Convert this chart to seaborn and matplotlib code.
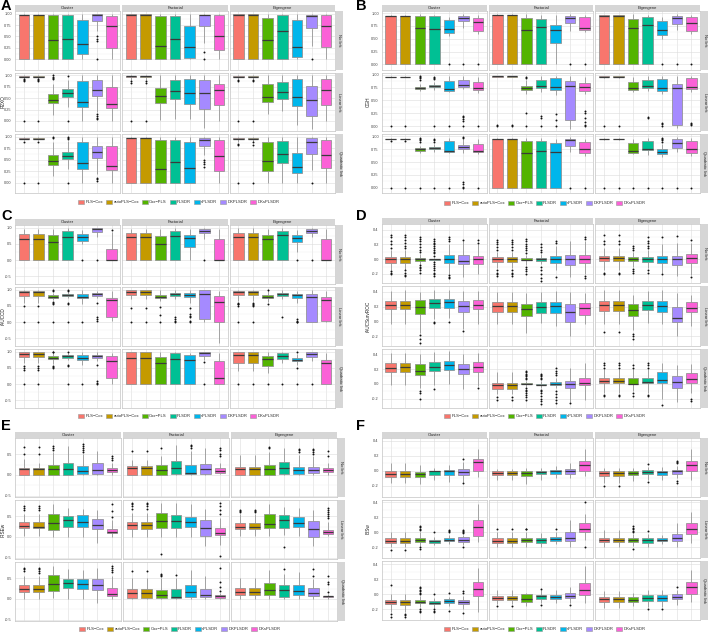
import numpy as np
import pandas as pd
import matplotlib
matplotlib.use("Agg")
import matplotlib.pyplot as plt
from matplotlib.patches import Patch
import seaborn as sns

methods = ["PLS\u2212Cox", "autoPLS\u2212Cox", "Cox\u2212PLS", "PLSDR", "sPLSDR", "DKPLSDR", "DKsPLSDR"]
colors = ["#F8766D", "#C49A00", "#53B400", "#00C094", "#00B6EB", "#A58AFF", "#FB61D7"]
designs = ["Cluster", "Factorial", "Eigengene"]
links = ["No link", "Linear link", "Quadratic link"]

# box stats per facet (row-major: No/Linear/Quadratic x Cluster/Factorial/Eigengene)
# each box: (whisker low, q1, median, q3, whisker high)
A_box = [
    [(0,0,.97,.98,1),(0,0,.97,.98,1),(0,0,.42,.96,1),(0,0,.44,.96,1),(0,.12,.34,.87,1),(.62,.84,.96,.99,1),(0,.24,.74,.95,1)],
    [(0,0,.98,.99,1),(0,0,.98,.99,1),(0,0,.29,.94,1),(0,0,.44,.94,1),(0,.02,.27,.72,1),(.35,.72,.96,.98,1),(0,.2,.5,.96,1)],
    [(0,0,.98,.99,1),(0,0,.98,.99,1),(0,0,.43,.91,1),(0,0,.63,.96,1),(0,.05,.26,.86,1),(.28,.68,.95,.98,1),(0,.27,.74,.96,1)],
    [(.93,.96,.97,.98,1),(.93,.96,.97,.98,1),(.13,.39,.46,.59,.82),(.3,.53,.61,.7,.9),(0,.31,.42,.87,1),(.2,.54,.67,.89,1),(0,.29,.38,.75,1)],
    [(.9,.97,.98,.99,1),(.9,.97,.98,.99,1),(.02,.4,.55,.72,1),(.05,.48,.65,.9,1),(.05,.38,.61,.93,1),(-.16,.26,.61,.89,1),(0,.35,.67,.8,1)],
    [(.93,.96,.97,.98,1),(.93,.96,.97,.98,1),(.15,.41,.52,.8,1),(.22,.48,.63,.85,1),(-.09,.33,.52,.93,1),(-.17,.11,.45,.76,1),(0,.36,.67,.93,1)],
    [(.93,.95,.96,.98,1),(.93,.95,.96,.98,1),(.15,.38,.48,.61,.9),(.3,.51,.59,.68,.92),(0,.3,.43,.88,1),(.18,.55,.67,.81,1),(0,.28,.37,.8,1)],
    [(0,0,.97,.98,1),(0,0,.97,.98,1),(0,0,.29,.94,1),(0,0,.46,.94,1),(0,0,.33,.88,1),(.6,.81,.94,.98,1),(0,.26,.58,.94,1)],
    [(.9,.95,.96,.98,1),(.9,.95,.96,.98,1),(0,.25,.48,.9,1),(0,.42,.63,.91,1),(0,.21,.35,.65,1),(.28,.63,.9,.98,1),(0,.31,.61,.94,1)],
]
A_out = {
    (0,5):[.5,.45,.4,0], (1,5):[.15,0], (2,5):[0],
    (3,0):[.91,.89,.87,0], (3,1):[.91,.89,.87,0], (3,2):[.92,.95,.97,1], (3,3):[.98,0], (3,5):[.15,.1,.07,.05],
    (4,0):[.88,.84,0], (4,1):[.88,.84,0],
    (5,0):[.9,.88,0], (5,1):[.9,.88,0],
    (6,0):[.9,0], (6,1):[.9,0], (6,2):[.97,1], (6,3):[.97,1,.95,0], (6,5):[.1,.07,.03],
    (7,5):[.5,.45,.4,.35],
    (8,0):[.85,.82,0], (8,1):[.88,.82,0], (8,5):[0],
}

B_box = [
    [(0,0,.94,.95,.97),(0,0,.94,.95,.97),(0,0,.71,.94,.98),(0,0,.7,.94,.97),(.55,.61,.69,.86,.92),(.72,.84,.91,.95,.98),(.6,.66,.82,.9,.96)],
    [(0,0,.96,.97,.98),(0,0,.96,.97,.98),(0,0,.67,.91,.98),(0,0,.73,.89,.97),(0,.41,.67,.77,.96),(.65,.8,.91,.95,.98),(.63,.67,.72,.92,.97)],
    [(0,0,.95,.96,.97),(0,0,.95,.96,.97),(0,0,.71,.88,.98),(0,0,.77,.93,.97),(.5,.58,.67,.84,.93),(.68,.79,.9,.94,.98),(.6,.66,.8,.93,.97)],
    [(.95,.95,.96,.96,.97),(.95,.95,.96,.96,.97),(.68,.72,.75,.77,.83),(.7,.77,.79,.8,.86),(.66,.69,.72,.88,.97),(.72,.77,.8,.9,.98),(.65,.7,.75,.86,.96)],
    [(.96,.96,.97,.97,.98),(.96,.96,.97,.97,.98),(.63,.71,.75,.79,.9),(.67,.75,.79,.9,.97),(.61,.7,.77,.93,.98),(-.05,.12,.78,.87,.97),(.62,.69,.77,.85,.96)],
    [(.94,.95,.96,.97,.97),(.94,.95,.96,.97,.97),(.66,.7,.74,.86,.96),(.68,.75,.78,.89,.98),(.62,.69,.75,.92,.98),(-.03,.02,.74,.82,.97),(.66,.72,.77,.93,.98)],
    [(.93,.95,.96,.96,.97),(.93,.95,.96,.96,.97),(.68,.72,.75,.78,.82),(.7,.76,.78,.8,.86),(.68,.7,.72,.91,.97),(.68,.76,.8,.84,.96),(.66,.69,.72,.85,.95)],
    [(0,0,.96,.96,.97),(0,0,.96,.96,.97),(0,0,.67,.92,.98),(0,0,.72,.92,.97),(0,0,.69,.87,.96),(.7,.81,.93,.96,.99),(.62,.68,.75,.89,.96)],
    [(.94,.95,.96,.96,.97),(.94,.95,.96,.96,.97),(.66,.68,.72,.87,.96),(.64,.73,.76,.92,.98),(.6,.65,.69,.76,.86),(.7,.78,.87,.96,.99),(.62,.68,.75,.92,.98)],
]
B_out = {
    (0,4):[0], (0,5):[0], (0,6):[0],
    (1,5):[0], (1,6):[0],
    (2,4):[0], (2,5):[0], (2,6):[0],
    (3,0):[0], (3,1):[0], (3,2):[.9,.93,.96,.98], (3,3):[.91,.94,.96,0], (3,4):[0], (3,5):[.2,.17,.14,.1,0], (3,6):[0],
    (4,0):[.02,0], (4,1):[.02,0], (4,2):[.93,.96,.25,0], (4,3):[.2,.16,0], (4,4):[.23,.12,0], (4,6):[.3,.25,.15,.08,.03,0],
    (5,0):[0], (5,1):[0], (5,3):[.17,.15], (5,4):[.07,.04,0], (5,6):[.06,.04,.02],
    (6,0):[.91,0], (6,1):[.91,0], (6,2):[.9,.93,.95,.97,0], (6,3):[.9,.94,.96,0], (6,4):[0], (6,5):[.97,.99,.12,.07,.02,0], (6,6):[0],
    (7,5):[0], (7,6):[0],
    (8,0):[0], (8,1):[0], (8,2):[0], (8,3):[0], (8,4):[.9,.93,.96,.98,0], (8,5):[0], (8,6):[0],
}

C_box = [
    [(0,0,.65,.82,.97),(0,0,.65,.82,.97),(0,0,.56,.78,.97),(0,0,.72,.89,.98),(.5,.59,.7,.81,.93),(.7,.86,.95,.98,1),(0,0,0,.35,.88)],
    [(0,0,.72,.85,.97),(0,0,.71,.85,.97),(0,0,.51,.75,.97),(0,0,.75,.89,.98),(0,.4,.69,.78,.95),(.65,.83,.9,.97,1),(0,0,0,.66,.95)],
    [(0,0,.71,.85,.98),(0,0,.71,.85,.98),(0,0,.66,.78,.97),(0,0,.78,.91,.98),(.25,.55,.68,.78,.93),(.72,.83,.9,.96,1),(0,0,.02,.66,.95)],
    [(.6,.8,.93,.97,1),(.6,.8,.93,.97,1),(.68,.74,.79,.83,.9),(.75,.81,.84,.87,.93),(.55,.73,.79,.88,.98),(.75,.81,.86,.89,.97),(.05,.16,.69,.75,.95)],
    [(.7,.85,.94,.98,1),(.7,.85,.94,.98,1),(.65,.74,.79,.83,.98),(.7,.81,.86,.9,.98),(.6,.77,.84,.89,.98),(0,.09,.86,.98,1),(-.65,0,.63,.8,.97)],
    [(.65,.85,.92,.97,1),(.65,.85,.92,.97,1),(.62,.74,.79,.84,.98),(.7,.81,.86,.9,.98),(.6,.75,.83,.88,.97),(0,.02,.78,.88,.98),(0,.04,.69,.79,.95)],
    [(.65,.84,.93,.98,1),(.65,.84,.93,.98,1),(.62,.76,.8,.87,.95),(.75,.82,.86,.89,.95),(.6,.73,.82,.91,.98),(.7,.82,.86,.91,.98),(.02,.18,.7,.86,.97)],
    [(0,0,.8,.98,1),(0,0,.8,.98,1),(0,0,.65,.84,.98),(0,0,.78,.95,.99),(0,0,.73,.89,.97),(.75,.88,.95,1,1),(0,0,.2,.72,.95)],
    [(.4,.66,.9,.99,1),(.4,.66,.9,.99,1),(.35,.55,.77,.86,.98),(.65,.77,.86,.95,.99),(.6,.7,.74,.8,.93),(.7,.85,.92,.99,1),(0,0,.66,.73,.95)],
]
C_out = {
    (0,4):[0], (0,5):[0], (0,6):[.94],
    (1,5):[0],
    (2,4):[0], (2,5):[0],
    (3,0):[.5,0], (3,1):[.5,0], (3,2):[.55,.6,.62,.95,1,0], (3,3):[.6,.57,.97,1,0], (3,4):[0], (3,5):[.6,.15,.1,.05],
    (4,0):[.45,0], (4,1):[.45,0], (4,2):[.48,.22,0], (4,3):[.15,.1,.05,0], (4,4):[.45,.25,.2,.15,.05,0],
    (5,0):[.6,.57,.55,.5,0], (5,1):[.6,.55,.52,.5,0], (5,2):[.55,1], (5,3):[.15], (5,4):[.1,.05,.02,0],
    (6,0):[.55,.5,.44,0], (6,1):[.55,.5,.44,0], (6,2):[.55,.52,.5,.98,1], (6,3):[.6,.57,1,0], (6,4):[0], (6,5):[.6,.1,.05,0],
    (7,5):[.68,0],
    (8,0):[0], (8,1):[0], (8,2):[0], (8,3):[0], (8,4):[.5,.98,0], (8,5):[0],
}

D_box = [
    [(-.14,-.045,0,.03,.12),(-.14,-.045,0,.03,.12),(-.07,-.018,.005,.018,.07),(-.02,-.005,0,.005,.02),(-.2,-.05,0,.055,.2),(-.24,-.065,-.018,.055,.24),(-.2,-.06,0,.04,.2)],
    [(-.12,-.035,0,.03,.1),(-.12,-.035,0,.03,.1),(-.08,-.015,-.005,.01,.06),(-.06,-.02,0,.02,.07),(-.15,-.045,0,.05,.18),(-.24,-.085,0,.06,.24),(-.2,-.05,0,.06,.24)],
    [(-.15,-.03,.01,.045,.15),(-.15,-.03,.01,.045,.15),(-.1,-.025,0,.03,.1),(-.12,-.035,0,.035,.12),(-.18,-.045,0,.05,.2),(-.23,-.075,0,.045,.22),(-.22,-.05,.01,.07,.22)],
    [(-.03,.165,.23,.28,.42),(-.03,.165,.23,.28,.43),(-.16,.107,.195,.285,.4),(.03,.18,.245,.3,.43),(.05,.19,.26,.31,.43),(-.1,.13,.215,.28,.42),(-.03,.17,.23,.29,.42)],
    [(-.03,.125,.21,.27,.4),(-.03,.125,.21,.27,.4),(-.15,.07,.17,.24,.38),(-.02,.12,.2,.27,.4),(-.06,.12,.205,.27,.42),(-.2,0,.135,.24,.4),(-.04,.09,.185,.25,.38)],
    [(-.03,.14,.22,.28,.43),(-.03,.14,.22,.28,.43),(-.12,.08,.16,.24,.36),(-.02,.15,.22,.28,.42),(-.03,.13,.21,.28,.43),(-.2,-.01,.05,.2,.38),(-.06,.13,.19,.26,.36)],
    [(-.01,.155,.22,.285,.42),(-.01,.16,.235,.285,.42),(-.05,.115,.18,.27,.4),(-.02,.18,.23,.3,.43),(0,.19,.25,.31,.44),(-.07,.14,.2,.27,.4),(-.03,.16,.23,.29,.42)],
    [(-.14,-.07,-.02,.01,.16),(-.14,-.07,-.02,.01,.16),(-.04,-.005,0,.01,.04),(-.05,-.02,-.01,0,.04),(-.06,-.01,0,.03,.08),(-.25,-.06,0,.04,.22),(-.22,-.02,.01,.08,.28)],
    [(-.12,.01,.04,.08,.2),(-.12,.01,.04,.08,.2),(-.1,0,0,.08,.2),(-.12,.01,.025,.08,.2),(-.2,.01,.05,.16,.28),(-.24,-.06,.02,.1,.26),(-.13,.01,.07,.15,.27)],
]
D_out = {
    (0,0):[.15,.2,.25,.3,.33,-.16,-.18,-.2], (0,1):[.15,.18,.22,.26,.3,.33,-.15,-.18,-.21,-.23],
    (0,2):[.1,.13,.16,.2,.24,.28,.3,-.08,-.1,-.12,-.15,-.18],
    (0,3):[.05,.08,.1,.12,.15,.18,.2,.22,.25,.27,-.04,-.06,-.09,-.12,-.15,-.18,-.2,-.23],
    (0,4):[.25,.27,.3,-.22,-.24,-.25], (0,5):[.26], (0,6):[.26,.22],
    (1,0):[.13,.16,.2,.23,.26,-.15,-.18,-.2,-.23], (1,1):[.13,.16,.2,.23,.26,-.15,-.18,-.2,-.23],
    (1,2):[.09,.12,.15,.18,.21,.24,.27,-.1,-.13,-.16,-.2], (1,3):[.1,.13,.17,.21,-.1,-.15,-.2,-.25,-.29],
    (1,4):[.22,.24,-.24], (1,6):[.27,.3,-.23,-.26],
    (2,0):[.2,.25,.33,-.18,-.2], (2,1):[.2,.25,.33,-.18,-.2], (2,2):[.12,.15,.18,-.13,-.16,-.19],
    (2,3):[.15,.18,.22,.25,.3,-.15,-.18], (2,4):[.3,-.2], (2,5):[.31], (2,6):[.26,-.24],
    (3,2):[-.18,-.23,-.29], (3,3):[-.01,-.02], (3,4):[0], (3,5):[-.13],
    (5,0):[-.14], (5,1):[-.14], (5,2):[-.17,-.2,-.23],
    (6,2):[-.1,-.13,-.2], (6,3):[-.07], (6,6):[-.06],
    (7,0):[-.18,-.22], (7,1):[-.18,-.22], (7,2):[.06,.08,.1,.12,.14,.16,.18,-.06,-.08,-.1,-.12,-.15,-.18,-.22],
    (7,3):[.06,.08,.1,.12,.14,-.08,-.1,-.13,-.16,-.2,-.23,-.27], (7,4):[.12,.15,.18,.22,-.1,-.14,-.18,-.22,-.26], (7,5):[-.26],
    (8,0):[.22,.25,.28,-.15,-.17], (8,1):[.22,.25,.28,-.15,-.17], (8,2):[.22,.25,-.13,-.17], (8,3):[.22,.25,.28,-.15,-.17], (8,4):[-.28], (8,6):[-.21,-.23],
}

E_box = [
    [(0,0,.14,.18,.38),(0,0,.14,.16,.3),(0,0,.14,.24,.55),(0,0,.14,.29,.7),(0,.02,.1,.22,.5),(0,.02,.12,.3,.58),(0,.06,.12,.17,.28)],
    [(0,0,.17,.21,.37),(0,0,.16,.21,.37),(0,0,.12,.24,.45),(0,.02,.17,.34,.72),(0,.02,.05,.24,.58),(0,.03,.14,.27,.65),(.02,.05,.1,.16,.3)],
    [(0,0,.15,.2,.48),(0,0,.15,.2,.48),(0,0,.15,.24,.55),(0,.02,.18,.31,.65),(0,.02,.11,.2,.48),(0,.04,.12,.2,.45),(0,.06,.12,.17,.3)],
    [(.02,.22,.26,.35,.55),(.02,.22,.25,.35,.55),(0,.18,.34,.55,.8),(0,.25,.4,.5,.7),(0,.23,.36,.53,.68),(-.15,.19,.29,.43,.65),(0,.09,.11,.2,.4)],
    [(0,.19,.28,.36,.58),(0,.19,.28,.36,.58),(0,.22,.38,.57,.82),(0,.22,.38,.53,.82),(0,.24,.35,.48,.8),(-.22,.03,.22,.4,.68),(-.2,.04,.09,.21,.45)],
    [(.02,.2,.25,.33,.55),(.02,.2,.25,.33,.55),(.02,.21,.32,.56,.8),(.05,.22,.4,.53,.72),(.02,.24,.34,.48,.7),(-.22,0,.19,.38,.65),(.02,.06,.11,.17,.35)],
    [(0,.17,.25,.33,.55),(0,.17,.24,.33,.55),(.02,.2,.36,.57,.8),(0,.26,.38,.48,.72),(0,.23,.37,.49,.7),(-.1,.22,.34,.48,.75),(0,.06,.11,.27,.55)],
    [(0,.02,.14,.25,.5),(0,.02,.14,.25,.5),(0,.02,.1,.22,.5),(0,.02,.05,.24,.5),(0,.04,.16,.33,.7),(0,.04,.1,.25,.55),(0,.03,.06,.09,.15)],
    [(0,.1,.18,.27,.5),(0,.1,.18,.27,.5),(0,.1,.22,.38,.7),(0,.05,.22,.33,.6),(0,.1,.2,.34,.65),(0,.06,.14,.26,.48),(0,.04,.06,.08,.12)],
]
E_out = {
    (0,0):[.5,.68], (0,1):[.5,.68], (0,2):[.6,.65,.7], (0,4):[.55,.6,.65,.7,.75], (0,6):[.35,.4,.45],
    (1,0):[.57], (1,1):[.57], (1,2):[.65], (1,4):[.65,.7,.72], (1,6):[.45,.5,.6,.65],
    (2,2):[.65,.68], (2,4):[.55,.6,.63], (2,5):[.5,.55,.6,.62], (2,6):[.45,.58],
    (3,0):[.65,.7,.75], (3,1):[.65,.7,.75], (3,6):[.48,.63,.8],
    (4,0):[.68,.75,.8,.83], (4,1):[.68,.75,.8,.83], (4,2):[-.42], (4,6):[.55,.65,.75,.82,-.47],
    (5,0):[.6,.63,.66], (5,1):[.6,.63,.66], (5,3):[-.25], (5,6):[.45,.5,.55,.6,.65,.7],
    (6,0):[.68,.72,.75], (6,1):[.63,.68,.72,.75], (6,6):[.65,.7,.75,.8],
    (7,0):[.68], (7,1):[.68], (7,2):[.55,.58,.6], (7,3):[.58], (7,6):[.2,.3,.4,.75],
    (8,3):[.72], (8,5):[.55,.73], (8,6):[.18,.35,.42,.55],
}

F_box = [
    [(-.17,-.08,-.04,-.01,.1),(-.17,-.08,-.04,-.01,.1),(-.18,-.08,-.05,-.013,.08),(-.12,-.06,-.01,-.005,.04),(-.15,-.06,-.004,.004,.07),(-.15,-.06,-.013,.017,.12),(-.08,0,.11,.15,.29)],
    [(-.13,-.06,-.03,-.01,.02),(-.13,-.06,-.03,-.01,.02),(-.18,-.07,-.03,-.01,.03),(-.12,-.05,-.02,0,.04),(-.1,-.05,-.01,.01,.06),(-.1,-.04,-.01,.02,.1),(-.07,0,.07,.13,.29)],
    [(-.16,-.07,-.03,-.01,.03),(-.16,-.07,-.03,-.01,.03),(-.14,-.06,-.03,-.01,.03),(-.12,-.05,-.02,.01,.05),(-.13,-.06,-.02,0,.05),(-.1,-.04,-.01,.01,.06),(-.13,0,.08,.13,.29)],
    [(-.2,-.14,-.11,-.08,0),(-.2,-.145,-.115,-.08,0),(-.18,-.13,-.1,-.075,0),(-.17,-.14,-.115,-.095,-.06),(-.16,-.12,-.095,-.07,-.04),(-.17,-.125,-.1,-.065,-.03),(-.13,-.045,.07,.16,.38)],
    [(-.19,-.14,-.11,-.075,0),(-.19,-.14,-.11,-.075,0),(-.19,-.13,-.1,-.075,0),(-.2,-.135,-.1,-.075,-.01),(-.16,-.12,-.09,-.065,0),(-.2,-.12,-.08,0,.17),(-.1,0,.05,.12,.25)],
    [(-.19,-.13,-.1,-.07,.03),(-.19,-.13,-.1,-.07,.03),(-.18,-.125,-.1,-.075,-.02),(-.19,-.135,-.105,-.075,-.02),(-.16,-.12,-.095,-.07,-.03),(-.2,-.12,-.075,-.02,.13),(-.14,-.02,.05,.13,.27)],
    [(-.24,-.133,-.1,-.075,0),(-.24,-.146,-.11,-.08,0),(-.17,-.124,-.1,-.075,-.03),(-.18,-.137,-.115,-.09,-.05),(-.16,-.12,-.093,-.07,-.04),(-.2,-.133,-.11,-.08,-.03),(-.24,-.03,.07,.16,.35)],
    [(-.13,-.08,-.05,-.02,.06),(-.13,-.08,-.05,-.02,.06),(-.16,-.1,-.06,0,.02),(-.12,-.06,-.03,-.01,.05),(-.12,-.06,-.04,-.015,.05),(-.12,-.05,-.02,.01,.1),(-.12,-.01,.05,.15,.37)],
    [(-.18,-.1,-.07,-.04,.04),(-.18,-.1,-.07,-.04,.04),(-.16,-.1,-.075,-.04,.02),(-.17,-.09,-.05,-.01,.06),(-.17,-.09,-.05,-.01,.06),(-.14,-.07,-.04,0,.06),(-.1,0,.1,.16,.32)],
]
F_out = {
    (0,5):[.15,-.16],
    (2,0):[-.2], (2,1):[-.2], (2,3):[.09,-.15], (2,5):[.1,.12,.13,-.14,-.17],
    (3,0):[-.23], (3,1):[-.23], (3,2):[.03,.05,.07,.09,-.2,-.22], (3,3):[0], (3,4):[0,.02,.03], (3,5):[-.01,.01,.02,.03,-.2],
    (4,0):[.05], (4,1):[.05], (4,2):[.04,.05], (4,4):[.04], (4,6):[.4,-.2],
    (5,2):[0,.02,.04,.06,.08,-.22], (5,3):[.02],
    (6,0):[.12,-.27,-.3], (6,1):[-.26,-.28,-.31], (6,2):[0,.02,.04,.06,.08,.1,-.2,-.22,-.24], (6,3):[0,-.2,-.22,-.24], (6,4):[.01,-.23], (6,5):[.02,.04,-.25],
    (7,0):[-.16], (7,1):[-.16], (7,3):[.07,-.15], (7,5):[-.15],
    (8,3):[-.2], (8,4):[-.2], (8,5):[.1],
}

ylabels = ["R2XO", "CGH", "iAUCCD", "iAUCSurvROC", "iRSEw", "iBSw"]
yticks = [[0, .25, .5, .75, 1], [0, .25, .5, .75, 1], [-.5, 0, .5, 1], [-.2, 0, .2, .4], [-.5, 0, .5], [-.2, 0, .2, .4]]
ytick_fmt = ["{:.2f}", "{:.2f}", "{:.1f}", "{:.1f}", "{:.1f}", "{:.1f}"]

sns.set_style("white")
plt.rcParams["font.family"] = ["Liberation Sans", "DejaVu Sans"]

W, H = 708, 634
fig = plt.figure(figsize=(W / 100, H / 100), dpi=100)
pal = dict(zip(methods, colors))


def px_ax(x, y, w, h):
    return fig.add_axes([x / W, 1 - (y + h) / H, w / W, h / H])


def draw_panel(letter, box, outs, ylab, ticks, fmt, x0, x1, y0, y1, ly, lpos):
    allv = [v for f in box for b in f for v in b] + [v for o in outs.values() for v in o]
    lo, hi = min(allv), max(allv)
    pad = 0.05 * (hi - lo)
    ylim = (lo - pad, hi + pad)
    sh, sw, cg, rg = 6, 7, 2, 3
    fw = (x1 - x0 - sw - 1 - 2 * cg) / 3
    fh = (y1 - y0 - sh - 2 * rg) / 3
    minor = [(a + b) / 2 for a, b in zip(ticks[:-1], ticks[1:])]
    for r in range(3):
        for c in range(3):
            fx = x0 + c * (fw + cg)
            fy = y0 + sh + r * (fh + rg)
            ax = px_ax(fx, fy, fw, fh)
            k = r * 3 + c
            cats, vals = [], []
            for m, s in zip(methods, box[k]):
                cats += [m] * 5
                vals += list(s)
            df = pd.DataFrame({"method": cats, "value": vals})
            sns.boxplot(data=df, x="method", y="value", hue="method", order=methods,
                        hue_order=methods, palette=pal, whis=np.inf, width=0.72,
                        saturation=1, linecolor="#8f8f8f", linewidth=0.55,
                        showcaps=False, legend=False,
                        medianprops=dict(color="#3a3a3a", linewidth=0.9), ax=ax)
            ox, oy = [], []
            for (kk, mi), pts in outs.items():
                if kk == k:
                    ox += [methods[mi]] * len(pts)
                    oy += pts
            if ox:
                sns.stripplot(x=ox, y=oy, order=methods, jitter=False, color="#111111",
                              size=1.4, linewidth=0, ax=ax)
            ax.set_xlim(-0.6, 6.6)
            ax.set_ylim(*ylim)
            ax.set_xlabel("")
            ax.set_ylabel("")
            ax.set_facecolor("white")
            ax.set_yticks(ticks)
            ax.set_yticks(minor, minor=True)
            ax.set_xticks(range(7))
            ax.grid(True, which="major", color="#dcdcdc", linewidth=0.4)
            ax.grid(True, which="minor", axis="y", color="#efefef", linewidth=0.3)
            ax.set_axisbelow(True)
            for sp in ax.spines.values():
                sp.set_color("#c4c4c4")
                sp.set_linewidth(0.5)
            ax.tick_params(axis="both", which="both", length=0, labelbottom=False, labelleft=False)
            if c == 0:
                ax.set_yticklabels([fmt.format(t) for t in ticks])
                ax.tick_params(axis="y", which="major", length=1.5, width=0.4, color="#888888",
                               labelleft=True, labelsize=2.8, pad=0.8, labelcolor="#444444")
            if r == 2:
                ax.tick_params(axis="x", which="major", length=1.5, width=0.4, color="#888888")
            if r == 0:
                st = px_ax(fx, y0, fw, sh - 0.5)
                st.set_facecolor("#d6d6d6")
                st.set_xticks([])
                st.set_yticks([])
                for sp in st.spines.values():
                    sp.set_visible(False)
                st.text(0.5, 0.5, designs[c], ha="center", va="center", fontsize=3,
                        color="#222222", transform=st.transAxes)
            if c == 2:
                st = px_ax(x1 - sw, fy, sw, fh)
                st.set_facecolor("#d6d6d6")
                st.set_xticks([])
                st.set_yticks([])
                for sp in st.spines.values():
                    sp.set_visible(False)
                st.text(0.5, 0.5, links[r], ha="center", va="center", fontsize=3,
                        rotation=-90, color="#222222", transform=st.transAxes)
    fig.text(lpos / W, 1 - (y0 + sh + (y1 - y0 - sh) / 2) / H, ylab, rotation=90,
             ha="center", va="center", fontsize=3.4, color="#222222")
    handles = [Patch(facecolor=col, edgecolor="#999999", linewidth=0.4) for col in colors]
    fig.legend(handles, methods, loc="center", bbox_to_anchor=((x0 + x1) / 2 / W, 1 - ly / H),
               ncol=7, fontsize=3, frameon=False, handlelength=1.4, handleheight=1.3,
               columnspacing=0.7, handletextpad=0.35, borderpad=0)
    lx = 1 if x0 < 200 else 356
    ltop = -1.5 if y0 < 100 else (209 if y0 < 300 else 419)
    fig.text(lx / W, 1 - ltop / H, letter, ha="left", va="top", fontsize=10.5,
             fontweight="bold", color="black")


draw_panel("A", A_box, A_out, ylabels[0], yticks[0], ytick_fmt[0], 15, 343, 5, 193, 202, 3)
draw_panel("B", B_box, B_out, ylabels[1], yticks[1], ytick_fmt[1], 382, 708, 5, 193, 203, 368)
draw_panel("C", C_box, C_out, ylabels[2], yticks[2], ytick_fmt[2], 15, 343, 219, 408, 416, 3)
draw_panel("D", D_box, D_out, ylabels[3], yticks[3], ytick_fmt[3], 382, 708, 218, 408, 416, 368)
draw_panel("E", E_box, E_out, ylabels[4], yticks[4], ytick_fmt[4], 15, 345, 432, 621, 629, 3)
draw_panel("F", F_box, F_out, ylabels[5], yticks[5], ytick_fmt[5], 382, 708, 432, 620, 629, 368)

fig.savefig("out.png", dpi=100)
